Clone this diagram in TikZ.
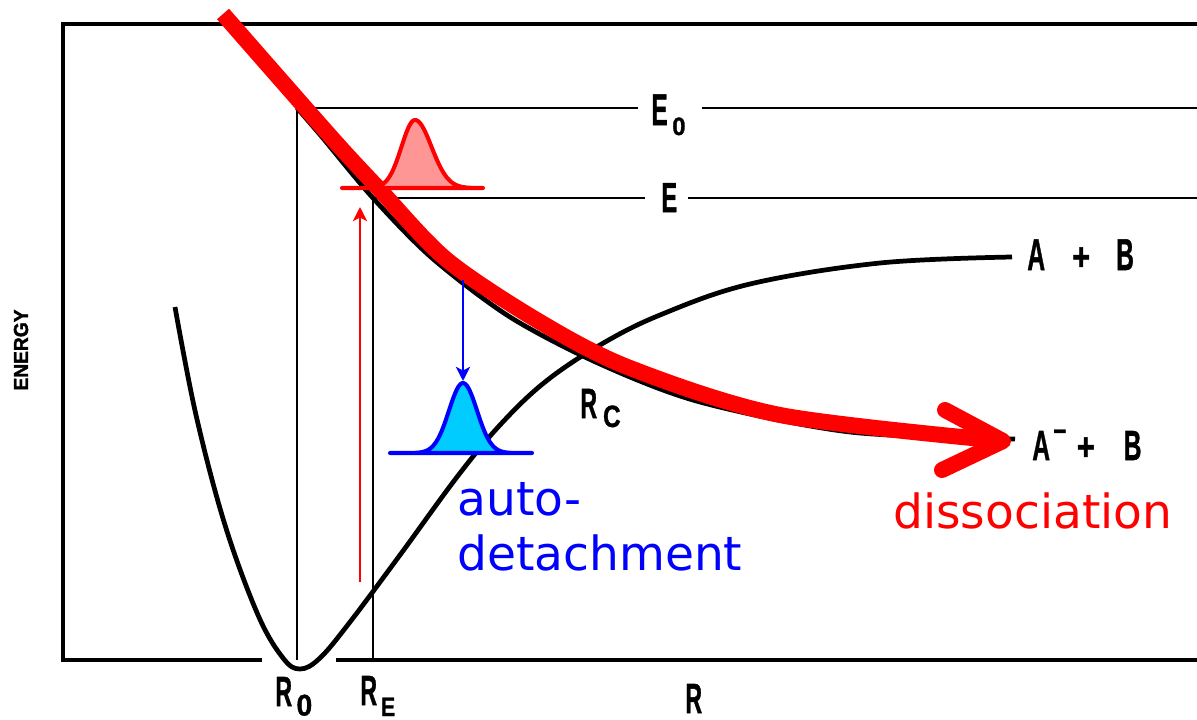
\documentclass[tikz,border=0pt]{standalone}
\usepackage{fontspec}
\setmainfont{DejaVu Sans}
\newfontfamily\lblfont{Liberation Sans Bold}[FakeBold=1.2]
\newfontfamily\axisfont{Liberation Sans Bold}[FakeBold=1.8]
\usetikzlibrary{arrows.meta}
\definecolor{gred}{RGB}{255,150,150}
\definecolor{gcyan}{RGB}{0,204,255}
\definecolor{gblue}{RGB}{0,0,255}
\newcommand{\glyph}[3]{\scalebox{#1}[1]{\fontsize{#2}{#2}\selectfont #3}}
\begin{document}
\begin{tikzpicture}[x=0.02cm,y=-0.02cm,
  frameline/.style={line width=1.8pt},
  level/.style={line width=1.5pt},
  vline/.style={line width=1.1pt},
  pot/.style={line width=2.7pt, line join=round},
  band/.style={red, line width=9.1pt},
  lbl/.style={inner sep=0pt, anchor=base west, font=\lblfont},
  captext/.style={inner sep=0pt, anchor=base west, font=\fontsize{26.8pt}{31.3pt}\selectfont, align=left},
  gauss/.style={line width=2.3pt, line join=round},
  thinarrow/.style={line width=1.7pt, -{Stealth[length=8pt,width=8pt,inset=2pt]}}]
\useasboundingbox (0,0) rectangle (1197,720);

% frame and axis
\draw[frameline] (1197,24) -- (63,24) -- (63,660) -- (262,660);
\draw[frameline] (336,660) -- (1197,660);

% labels (black)
\node[lbl] (E0) at (651,125) {\glyph{0.55}{25.4pt}{E}\hspace{2.6pt}\raisebox{-5.7pt}{\glyph{0.95}{14.3pt}{0}}};
\node[lbl] (E) at (661,212) {\glyph{0.57}{23.8pt}{E}};
\node[lbl] (AB) at (1027,270) {\glyph{0.55}{25.4pt}{A}\hspace{15.4pt}\glyph{0.8}{22pt}{+}\hspace{14.8pt}\glyph{0.55}{25.4pt}{B}};
\node[lbl] (AmB) at (1032,460) {\glyph{0.58}{24pt}{A}\hspace{2pt}\raisebox{11pt}{\glyph{0.65}{20pt}{–}}\hspace{6pt}\glyph{0.8}{22pt}{+}\hspace{16.5pt}\glyph{0.58}{24pt}{B}};
\node[lbl] (R0) at (275,706) {\glyph{0.55}{24pt}{R}\hspace{2.5pt}\raisebox{-5.4pt}{\glyph{0.95}{17pt}{0}}};
\node[lbl] (RE) at (360,705) {\glyph{0.55}{24pt}{R}\hspace{2.2pt}\raisebox{-6.3pt}{\glyph{0.8}{15.2pt}{E}}};
\node[lbl] (R) at (685,713) {\glyph{0.55}{24pt}{R}};
\node[lbl] (Rc) at (580,418) {\glyph{0.55}{24pt}{R}\hspace{3.4pt}\raisebox{-5.1pt}{\glyph{0.79}{17.5pt}{C}}};
\node[inner sep=0pt, rotate=90, font=\axisfont] (energy) at (21,350) {\glyph{0.95}{11.5pt}{ENERGY}};

% energy levels
\draw[level] (297,108) -- (638,108);
\draw[level] (702,108) -- (1197,108);
\draw[level] (373,198) -- (645,198);
\draw[level] (688,198) -- (1197,198);

% vertical lines
\draw[vline] (297,108) -- (297,660);
\draw[vline] (373,198) -- (373,660);

% bound potential curve
\draw[pot] plot[smooth, tension=0.6] coordinates {(175,307) (196,415) (225,525) (258,615) (283,658) (300,669) (320,658) (350,622) (400,555) (457,477) (500,425) (545,382) (600,345) (660,315) (750,284) (880,263) (1012,257)};

% repulsive potential curve
\draw[pot] plot[smooth, tension=0.5] coordinates {(297,108) (322,137) (373,198) (432,258) (510,317) (600,364) (700,402) (850,432) (1015,439)};

% red dissociation path
\draw[band] plot[smooth, tension=0.5] coordinates {(223,14) (331,137) (380,190) (447,260) (540,322) (630,368) (780,415) (1003,441)};
\coordinate (armA) at (945,410);
\coordinate (tip) at (1003,441);
\coordinate (armB) at (942,470);
\draw[band, line cap=round, line join=round] (armA) -- (tip) -- (armB);

% red wave packet
\filldraw[gauss, draw=red, fill=gred]
  plot[domain=342:415, samples=60] (\x,{188-68*exp(-((\x-415)/13.5)^2/2)})
  -- plot[domain=415:483, samples=60] (\x,{188-68*exp(-((\x-415)/16.5)^2/2)}) -- cycle;

% blue wave packet
\filldraw[gauss, draw=gblue, fill=gcyan]
  plot[domain=390:532, samples=90] (\x,{453-70*exp(-((\x-463)/14)^2/2)}) -- cycle;

% arrows
\coordinate (redfoot) at (360,582);
\coordinate (redtip) at (360,207);
\draw[thinarrow, red] (redfoot) -- (redtip);
\coordinate (bluefoot) at (463,280);
\coordinate (bluetip) at (463,381);
\draw[thinarrow, gblue] (bluefoot) -- (bluetip);

% captions
\node[captext, text=gblue] (auto) at (457,570) {auto-\\detachment};
\node[captext, text=red] (diss) at (893,528) {dissociation};
\end{tikzpicture}
\end{document}
